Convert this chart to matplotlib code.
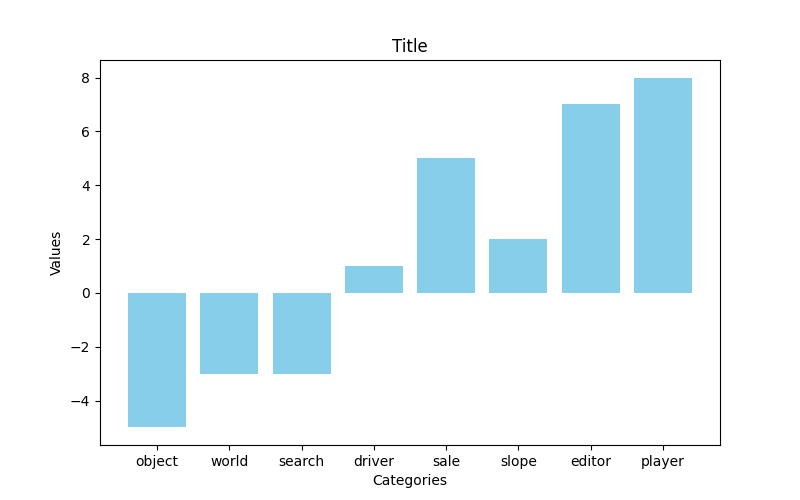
import matplotlib
matplotlib.use("Agg")
import matplotlib.pyplot as plt

categories = ["object", "world", "search", "driver", "sale", "slope", "editor", "player"]
values = [-5, -3, -3, 1, 5, 2, 7, 8]

fig, ax = plt.subplots(figsize=(8, 5), dpi=100)
ax.bar(categories, values, color="skyblue")
ax.set_title("Title")
ax.set_xlabel("Categories")
ax.set_ylabel("Values")
plt.savefig("out.png")
